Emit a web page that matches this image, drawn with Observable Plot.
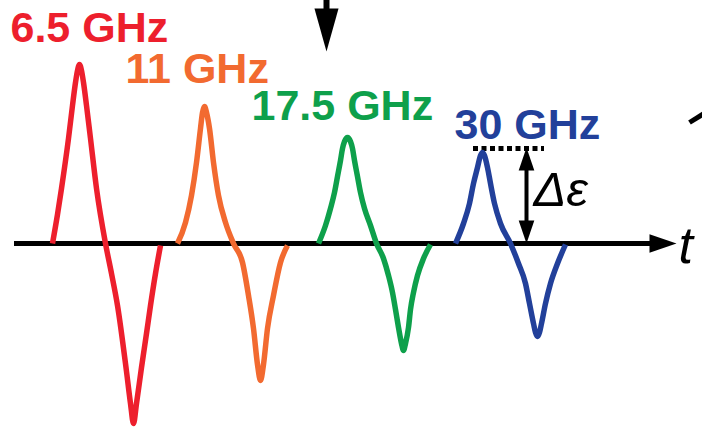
<!DOCTYPE html>
<html>
<head>
<meta charset="utf-8">
<script src="https://cdn.jsdelivr.net/npm/d3@7"></script>
<script src="https://cdn.jsdelivr.net/npm/@observablehq/plot@0.6"></script>
<style>
  html, body { margin: 0; padding: 0; background: #fff; }
  #chart svg { display: block; }
</style>
</head>
<body>
<div id="chart"></div>
<script>
// ---- data ----
const frequencies = ["6.5 GHz", "11 GHz", "17.5 GHz", "30 GHz"];
const colors = ["#ed1f2d", "#f26a30", "#0ea04b", "#22409a"];

const t65 = [52, 57, 61, 68, 72, 75, 77, 79, 81, 83, 86, 90, 96, 105, 111, 117, 126, 130, 133, 136, 141, 146, 150, 155, 160];
const e65 = [0, 29, 55, 105, 138, 161, 173, 179, 173, 161, 138, 105, 55, 0, -30, -62, -128, -160, -180, -160, -124, -90, -62, -30, -2];

const t11 = [177, 185, 191, 196, 200, 202, 204, 206, 209, 213, 218, 225, 233, 242, 248, 253, 257, 260, 263, 267, 273, 280, 287];
const e11 = [0, 21, 48, 81, 115, 131, 137, 131, 115, 81, 48, 21, 0, -19, -52, -85, -121, -137, -121, -85, -52, -19, -2];

const t175 = [318, 325, 330, 334, 337, 340, 342, 344, 347, 350, 352, 354, 357, 360, 364, 370, 376, 383, 388, 392, 395, 398, 401, 403, 405, 408, 410, 413, 417, 423, 430];
const e175 = [0, 18, 35, 51, 67, 83, 95, 102, 106, 102, 95, 83, 67, 51, 35, 18, 0, -15, -32, -49, -66, -84, -100, -107, -100, -84, -66, -49, -32, -15, -1];

const t30 = [455, 463, 469, 473, 477, 480, 482, 484, 487, 490, 494, 500, 510, 518, 525, 529, 533, 535, 537, 539, 541, 545, 550, 557, 565];
const e30 = [0, 20, 40, 60, 76, 88, 91, 88, 76, 60, 40, 20, 0, -20, -40, -60, -80, -89, -93, -89, -80, -60, -40, -20, -1];

// annotation anchors (t, ε) for the labels
const labelT = [10, 125, 251, 454];
const labelE = [215, 174, 137, 118];

// Δε marker
const deltaT = 526;
const deltaE = 95;
const dottedFrom = 473, dottedTo = 544;

// ---- build tables ----
const seriesT = [t65, t11, t175, t30];
const seriesE = [e65, e11, e175, e30];
const pulses = [];
frequencies.forEach((f, k) => {
  seriesT[k].forEach((t, i) => pulses.push({freq: f, t, e: seriesE[k][i]}));
});
const labels = frequencies.map((f, k) => ({freq: f, t: labelT[k], e: labelE[k]}));

// filled triangular arrow heads (tip at the anchor)
function head(dir, ratio) {
  return {
    draw(ctx, size) {
      const L = Math.sqrt(size / Math.PI), w = L * ratio;
      ctx.moveTo(0, 0);
      if (dir === "up") { ctx.lineTo(w, L); ctx.lineTo(-w, L); }
      else if (dir === "down") { ctx.lineTo(w, -L); ctx.lineTo(-w, -L); }
      else { ctx.lineTo(-L, w); ctx.lineTo(-L, -w); }
      ctx.closePath();
    }
  };
}

const chart = Plot.plot({
  width: 702,
  height: 428,
  margin: 0,
  x: {domain: [0, 702], axis: null},
  y: {domain: [-185, 243], axis: null},
  color: {domain: frequencies, range: colors},
  style: {background: "#fff", overflow: "hidden"},
  marks: [
    // time axis
    Plot.ruleY([0], {x1: 14, x2: 656, stroke: "#000", strokeWidth: 5}),
    Plot.dot([{t: 676, e: 0}], {x: "t", y: "e", r: 27, symbol: head("right", 0.34), fill: "#000", stroke: "none"}),
    Plot.text(["t"], {x: 678, y: -3, text: d => d, textAnchor: "start", lineAnchor: "middle",
      fontFamily: "Liberation Sans", fontStyle: "italic", fontSize: 52, fill: "#000"}),
    // dotted level line
    Plot.ruleY([deltaE], {x1: dottedFrom, x2: dottedTo, stroke: "#000", strokeWidth: 5, strokeDasharray: "5,3.5"}),
    // pulses
    Plot.line(pulses, {x: "t", y: "e", z: "freq", stroke: "freq", strokeWidth: 5.5,
      curve: "monotone-x", strokeLinecap: "butt", strokeLinejoin: "round"}),
    // Δε double arrow
    Plot.ruleX([deltaT], {y1: 10, y2: deltaE - 10, stroke: "#000", strokeWidth: 4}),
    Plot.dot([{t: deltaT, e: deltaE + 1}], {x: "t", y: "e", r: 23, symbol: head("up", 0.34), fill: "#000", stroke: "none"}),
    Plot.dot([{t: deltaT, e: 0}], {x: "t", y: "e", r: 23, symbol: head("down", 0.34), fill: "#000", stroke: "none"}),
    Plot.text(["Δε"], {x: 533, y: 53, text: d => d, textAnchor: "start", lineAnchor: "middle",
      fontFamily: "Liberation Sans", fontStyle: "italic", fontSize: 49, fill: "#000"}),
    // arrow from the top
    Plot.ruleX([326], {y1: 243, y2: 230, stroke: "#000", strokeWidth: 6}),
    Plot.dot([{t: 326, e: 192}], {x: "t", y: "e", r: 43, symbol: head("down", 0.28), fill: "#000", stroke: "none"}),
    // cut-off line at top right
    Plot.link([{t1: 689, e1: 121, t2: 705, e2: 131}], {x1: "t1", y1: "e1", x2: "t2", y2: "e2",
      stroke: "#000", strokeWidth: 5}),
    // frequency labels
    Plot.text(labels, {x: "t", y: "e", text: "freq", fill: "freq", textAnchor: "start", lineAnchor: "middle",
      fontFamily: "Liberation Sans", fontWeight: "bold", fontSize: 43})
  ]
});
document.getElementById("chart").appendChild(chart);
</script>
</body>
</html>
